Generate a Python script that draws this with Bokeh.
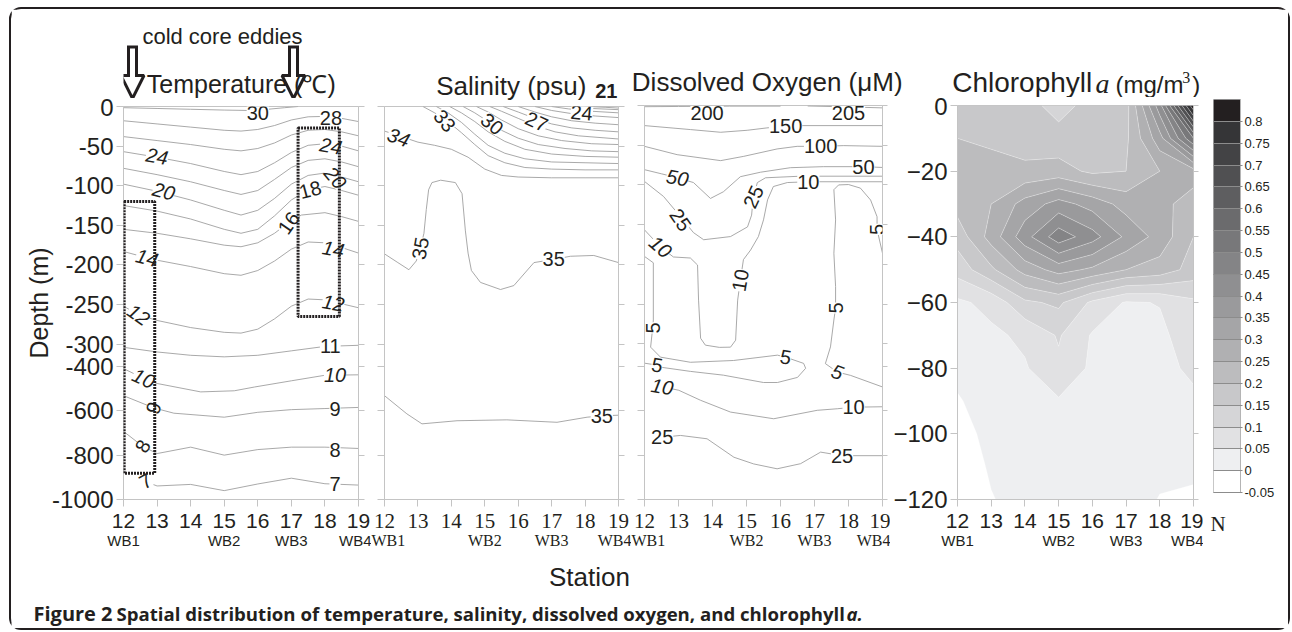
import numpy as np
from bokeh.plotting import figure
from bokeh.models import (Range1d, LinearAxis, FixedTicker, LabelSet, Label, ColumnDataSource,
                          BoxAnnotation, Arrow, NormalHead, CustomJSTickFormatter)
from bokeh.layouts import row, column
from bokeh.core.properties import value, field
from bokeh.embed import file_html
from bokeh.resources import INLINE

INK = "#231f20"
AXC = "#c4c4c4"
LINEC = "#9a9a9a"
SANS = "Liberation Sans"
SERIF = "Liberation Serif"

# ---------------- data ----------------
stations = [12, 13, 14, 15, 16, 17, 18, 19]
wb_ticks = [12, 15, 17, 19]
wb_labels = ["WB1", "WB2", "WB3", "WB4"]
depth_ticks = [0, -50, -100, -150, -200, -250, -300, -400, -600, -800, -1000]
chl_depth_ticks = [0, -20, -40, -60, -80, -100, -120]

# temperature isolines (station, depth m)
temp_isolines = {
    "30": [(12, -1.5), (13, -2.5), (14, -3.5), (15, -4.5), (15.7, -5), (16.3, -3.5), (16.8, -1.5), (17.2, 0)],
    "28": [(12, -18), (13, -22), (14, -26), (15, -30), (15.5, -31), (16, -29), (16.5, -24), (17, -17), (17.5, -13), (18, -12.5), (18.5, -15), (19, -19)],
    "26": [(12, -38), (13, -43), (14, -48), (15, -54), (15.5, -56), (16, -53), (16.5, -46), (17, -36), (17.5, -30), (18, -29), (18.5, -32), (19, -37)],
    "24": [(12, -57), (13, -64), (14, -72), (15, -82), (15.5, -86), (16, -82), (16.5, -71), (17, -58), (17.5, -49), (18, -47), (18.5, -50), (19, -56)],
    "22": [(12, -78), (13, -86), (14, -95), (15, -106), (15.5, -111), (16, -106), (16.5, -92), (17, -77), (17.5, -68), (18, -66), (18.5, -70), (19, -76)],
    "20": [(12, -98), (13, -107), (14, -118), (15, -131), (15.5, -137), (16, -131), (16.5, -116), (17, -98), (17.5, -87), (18, -84), (18.5, -89), (19, -95)],
    "18": [(12, -125), (13, -132), (14, -142), (15, -155), (15.5, -160), (16, -155), (16.5, -138), (17, -118), (17.5, -105), (18, -101), (18.5, -106), (19, -112)],
    "16": [(12, -155), (13, -160), (14, -167), (15, -175), (15.5, -177), (16, -172), (16.5, -160), (16.9, -147), (17.3, -137), (18, -134), (18.5, -139), (19, -145)],
    "14": [(12, -183), (12.7, -191), (13, -194), (14, -202), (15, -211), (15.5, -213), (16, -207), (16.5, -195), (17, -180), (17.5, -171), (18, -172), (18.5, -178), (19, -185)],
    "12": [(12, -252), (12.45, -263), (13, -270), (14, -279), (15, -285), (15.5, -286), (16, -281), (16.5, -268), (17, -252), (17.5, -243), (18, -244), (18.5, -249), (19, -254)],
    "11": [(12, -314), (13, -335), (14, -350), (15, -357), (16, -350), (17, -330), (18, -310), (19, -305)],
    "10": [(12, -410), (12.6, -454), (13, -477), (14.3, -515), (15.3, -510), (15.9, -493), (17, -465), (18, -440), (19, -438)],
    "9": [(12, -532), (12.9, -587), (13.5, -611), (15, -629), (16, -607), (17, -595), (18, -590), (19, -585)],
    "8": [(12, -693), (12.57, -760), (13, -793), (14, -764), (15, -800), (16, -775), (17, -764), (18, -764), (19, -770)],
    "7": [(12.5, -910), (13, -939), (14, -932), (15, -960), (16, -930), (17, -904), (18, -929), (19, -935)],
}
temp_lab_text = ["30", "28", "24", "24", "20", "20", "18", "16", "14", "14", "12", "12", "11", "10", "10", "9", "9", "8", "8", "7", "7"]
temp_lab_st = [16.0, 18.18, 13.0, 18.18, 13.2, 18.31, 17.56, 16.92, 12.7, 18.25, 12.45, 18.25, 18.16, 12.6, 18.3, 12.9, 18.3, 12.57, 18.3, 12.66, 18.3]
temp_lab_depth = [-8, -14, -63, -50, -107, -90, -105, -147, -191, -180, -263, -248, -310, -454, -440, -587, -593, -760, -775, -917, -930]
temp_lab_angle = [0, 0, -10, -10, -15, -50, 15, 55, -15, -10, -35, -10, 0, -25, 0, 70, 0, 60, 0, 30, 0]
temp_lab_style = ["normal", "normal", "italic", "italic", "italic", "italic", "normal", "normal", "italic", "italic",
                  "italic", "italic", "normal", "italic", "italic", "normal", "normal", "normal", "normal", "normal", "normal"]

# salinity isolines
sal_isolines = {
    "34": [(12.0, -31), (12.5, -38), (13.0, -45), (13.5, -49), (14.0, -54), (14.5, -64), (15.0, -79), (15.5, -87), (16.0, -89), (17.0, -90), (18.0, -90), (19.0, -90)],
    "33": [(13.15, 0), (13.5, -8), (13.9, -19), (14.3, -33), (14.7, -48), (15.1, -62), (15.6, -71), (16.2, -77), (17.0, -79), (18.0, -80), (19.0, -80)],
    "32": [(13.55, 0), (13.9, -8), (14.3, -20), (14.7, -35), (15.1, -49), (15.6, -59), (16.2, -66), (17.0, -70), (18.0, -71), (19.0, -72)],
    "31": [(13.95, 0), (14.3, -8), (14.7, -19), (15.1, -32), (15.6, -44), (16.2, -54), (17.0, -60), (18.0, -63), (19.0, -64)],
    "30": [(14.35, 0), (14.7, -8), (15.1, -19), (15.5, -30), (16.0, -40), (16.6, -48), (17.4, -53), (18.2, -56), (19.0, -57)],
    "29": [(14.75, 0), (15.1, -7), (15.5, -17), (16.0, -28), (16.6, -37), (17.3, -43), (18.2, -47), (19.0, -48)],
    "28": [(15.15, 0), (15.5, -6), (16.0, -15), (16.5, -24), (17.1, -32), (17.8, -37), (19.0, -41)],
    "27": [(15.55, 0), (16.0, -7), (16.5, -15), (17.0, -22), (17.6, -27), (18.3, -30), (19.0, -32)],
    "26": [(16.0, 0), (16.5, -7), (17.0, -13), (17.6, -18), (18.3, -21), (19.0, -23)],
    "25": [(16.5, 0), (17.0, -5), (17.6, -9), (18.3, -12), (19.0, -14)],
    "24": [(17.0, 0), (17.5, -3), (18.2, -6), (19.0, -8)],
    "23": [(17.6, 0), (18.2, -2.5), (19.0, -4)],
    "22": [(18.1, 0), (18.6, -1), (19.0, -2)],
    "35a": [(12, -186), (12.4, -197), (12.73, -206), (12.95, -195), (13.07, -179), (13.18, -160), (13.25, -130), (13.32, -105), (13.42, -96), (13.68, -93), (14.12, -96), (14.32, -110), (14.42, -157), (14.5, -185), (14.6, -207), (14.87, -222), (15.47, -231), (15.87, -226), (16.47, -197), (17.06, -193), (17.56, -189), (18.26, -188), (19, -197)],
    "35b": [(12, -532), (12.67, -614), (13.12, -659), (14.17, -645), (15.66, -641), (17.16, -652), (18.06, -629), (18.5, -623), (19, -620)],
}
sal_lab_text = ["34", "33", "30", "27", "24", "35", "35", "35"]
sal_lab_st = [12.42, 13.8, 15.22, 16.55, 17.9, 13.07, 17.06, 18.5]
sal_lab_depth = [-39, -18, -22, -19, -8, -179, -193, -625]
sal_lab_angle = [-20, -50, -40, -25, -5, 80, 0, 0]
sal_lab_style = ["italic", "normal", "normal", "normal", "normal", "normal", "normal", "normal"]

# dissolved oxygen isolines
do_isolines = {
    "200": [(12, -1.5), (13, -1.2), (14.5, -0.8), (16, -0.8)],
    "205": [(16.8, -0.6), (18, -1.8), (19, -3)],
    "150": [(12, -25.3), (13.35, -30.3), (14.24, -33.7), (15.02, -31.2), (15.6, -28.2), (16.15, -26), (16.69, -25.3), (19, -25.3)],
    "100": [(12, -51.4), (12.96, -61.9), (14.24, -69.4), (14.92, -64), (15.9, -54.7), (16.49, -51.4), (17.18, -51.4), (17.86, -50.5), (19, -51.4)],
    "50": [(12, -80.8), (12.5, -86), (12.97, -91), (13.44, -97), (13.94, -117), (14.32, -108.6), (14.82, -89.6), (15.41, -84), (16.29, -78.3), (17.26, -77), (18.44, -77), (19, -78)],
    "25a": [(12, -95.6), (12.56, -114.5), (13.06, -140), (13.44, -160), (13.74, -169), (14.53, -165), (15.03, -152.8), (15.15, -138), (15.2, -115), (15.32, -97), (15.56, -91), (16.59, -89), (19, -89)],
    "10a": [(12, -156.6), (12.47, -178), (12.85, -190.7), (13.35, -192), (13.56, -200.8), (13.59, -245), (13.65, -293), (13.79, -306), (14.2, -316), (14.53, -315), (14.68, -295.5), (14.74, -245), (14.82, -220), (14.91, -194), (15.12, -182), (15.35, -165), (15.5, -144), (15.62, -118.7), (15.79, -102), (16.2, -97), (16.82, -96), (17.76, -96), (19, -96)],
    "5a": [(19, -186), (18.84, -156), (18.84, -140), (18.65, -119), (18.35, -104), (18.0, -99.5), (17.71, -100), (17.57, -106), (17.62, -144), (17.57, -186), (17.62, -228), (17.62, -255), (17.57, -270), (17.47, -314), (17.32, -389), (17.67, -427), (18.06, -442), (19, -494)],
    "5b": [(12, -190), (12.26, -198), (12.26, -270), (12.24, -280), (12.18, -315), (12.47, -360), (13.35, -383), (14.62, -375), (15.91, -351), (16.15, -360), (16.68, -388), (16.74, -410), (16.5, -451), (15.91, -474), (15.5, -474), (14.32, -441), (13.35, -424), (12.47, -405), (12.37, -396), (12, -387)],
    "10b": [(12.3, -488), (12.52, -493), (13.01, -509), (13.65, -554), (14.53, -607), (15.8, -637), (17.08, -599), (17.67, -592), (18.15, -585), (19, -583)],
    "25b": [(12.52, -720), (13.06, -712), (13.84, -727), (14.63, -810), (15.21, -840), (15.9, -862), (16.59, -839), (17.18, -787), (17.81, -803), (19, -803)],
}
do_lab_text = ["200", "205", "150", "100", "50", "50", "25", "25", "10", "10", "10", "5", "5", "5", "5", "5", "5", "10", "10", "25", "25"]
do_lab_st = [13.84, 18.0, 16.15, 17.18, 12.97, 18.44, 13.06, 15.2, 16.82, 12.47, 14.82, 18.84, 17.62, 12.24, 16.15, 12.37, 17.67, 12.52, 18.15, 12.52, 17.81]
do_lab_depth = [-9, -9, -26, -51.4, -91, -77, -144, -115, -96, -178, -220, -156, -255, -280, -360, -396, -427, -493, -585, -720, -803]
do_lab_angle = [0, 0, 0, 0, -10, 0, -55, 65, 0, -40, 80, 90, 90, 90, -10, -10, -20, -10, 0, 0, 0]
do_lab_style = ["normal", "normal", "normal", "normal", "italic", "normal", "normal", "normal", "normal", "italic", "normal",
                "normal", "normal", "normal", "normal", "normal", "italic", "italic", "normal", "normal", "normal"]

# chlorophyll a grid (mg/m3): one column per station, rows = depth 0 .. -120 m
chl_depths = [0, -10, -20, -30, -40, -50, -60, -70, -80, -90, -100, -110, -120]
chl_st12 = [0.18, 0.20, 0.22, 0.22, 0.17, 0.12, 0.04, 0.03, 0.015, -0.005, -0.02, -0.035, -0.045]
chl_st13 = [0.18, 0.19, 0.22, 0.25, 0.27, 0.19, 0.065, 0.04, 0.035, 0.025, 0.015, 0.007, -0.003]
chl_st14 = [0.17, 0.18, 0.21, 0.32, 0.38, 0.27, 0.14, 0.06, 0.045, 0.035, 0.03, 0.025, 0.02]
chl_st15 = [0.13, 0.17, 0.22, 0.37, 0.48, 0.32, 0.16, 0.105, 0.09, 0.045, 0.035, 0.03, 0.03]
chl_st16 = [0.17, 0.18, 0.19, 0.33, 0.42, 0.29, 0.09, 0.045, 0.04, 0.04, 0.035, 0.03, 0.03]
chl_st17 = [0.18, 0.19, 0.20, 0.28, 0.34, 0.25, 0.045, 0.035, 0.03, 0.03, 0.03, 0.025, 0.02]
chl_st18 = [0.43, 0.33, 0.25, 0.27, 0.28, 0.23, 0.052, 0.04, 0.035, 0.03, 0.02, 0.01, -0.002]
chl_st19 = [0.84, 0.55, 0.28, 0.22, 0.20, 0.18, 0.09, 0.075, 0.06, 0.04, 0.025, 0.012, -0.01]
chl_levels = [-0.05, 0.0, 0.05, 0.1, 0.15, 0.2, 0.25, 0.3, 0.35, 0.4, 0.45, 0.5, 0.55, 0.6, 0.65, 0.7, 0.75, 0.8, 0.85]
chl_palette = ["#ffffff", "#eeeff1", "#e1e1e3", "#d5d5d7", "#c8c8ca", "#bcbcbe", "#b0b0b2", "#a5a5a7", "#9a9a9c",
               "#8f8f91", "#848486", "#78787a", "#6b6b6d", "#5e5e60", "#505052", "#434345", "#353537", "#231f20"]


def disp(d):
    """broken depth axis: 0-300 m linear, deeper part compressed"""
    return d if d >= -300 else -300 + (d + 300) * 0.28


# ---------------- helpers ----------------
def bare_fig(width, height, xr, yr, **kw):
    p = figure(width=width, height=height, x_range=xr, y_range=yr, x_axis_location=None,
               y_axis_location=None, toolbar_location=None, output_backend="svg", **kw)
    p.xgrid.grid_line_color = None
    p.ygrid.grid_line_color = None
    return p


def axis(ticks, font=SANS, size="21px", labels=True, tick_out=7, standoff=3, overrides=None):
    ax = LinearAxis(ticker=FixedTicker(ticks=ticks))
    ax.axis_line_color = AXC
    ax.major_tick_line_color = AXC
    ax.minor_tick_line_color = None
    ax.major_tick_out = tick_out
    ax.major_tick_in = 0
    ax.major_label_text_font = font
    ax.major_label_text_font_size = size
    ax.major_label_text_color = INK
    ax.major_label_standoff = standoff
    ax.axis_label_standoff = 0
    if not labels:
        ax.formatter = CustomJSTickFormatter(code="return ''")
        ax.major_label_text_font_size = "0px"
        ax.major_label_standoff = 0
    if overrides:
        ax.major_label_overrides = overrides
    return ax


BOTTOM_Y = 562  # image y where the panel row ends


def panel(width, height, mbl, mbr, mbt, y_range, xfont, xsize, wbfont, wbsize, frame_h=393):
    mbb = height - mbt - frame_h
    p = bare_fig(width, height, Range1d(12, 19), y_range, min_border_left=mbl, min_border_right=mbr,
                 min_border_top=mbt, min_border_bottom=mbb)
    p.outline_line_color = AXC
    p.add_layout(axis(stations, xfont, xsize, tick_out=7, standoff=7), "below")
    wb = axis(wb_ticks, wbfont, wbsize, standoff=-6, overrides=dict(zip(wb_ticks, wb_labels)))
    wb.axis_line_color = None
    wb.major_tick_line_color = None
    p.add_layout(wb, "below")
    return p


def draw_isolines(p, isolines):
    xs = [[pt[0] for pt in pts] for pts in isolines.values()]
    ys = [[disp(pt[1]) for pt in pts] for pts in isolines.values()]
    p.multi_line(xs=xs, ys=ys, line_color=LINEC, line_width=0.85)


def draw_labels(p, text, st, dep, ang, style):
    src = ColumnDataSource(dict(x=st, y=[disp(d) for d in dep], text=text, angle=ang, style=style))
    p.add_layout(LabelSet(x="x", y="y", text="text", angle="angle", angle_units="deg", source=src,
                          text_font=value(SANS), text_font_size="20px", text_color=INK,
                          text_font_style=field("style"), text_align="center", text_baseline="middle",
                          background_fill_color="white"))


def strip(x0, x1, y0, y1, fx0=None, fx1=None):
    """decoration strip whose data coordinates are the picture's pixel coordinates"""
    fx0 = x0 if fx0 is None else fx0
    fx1 = x1 if fx1 is None else fx1
    s = bare_fig(int(round(x1 - x0)), int(round(y1 - y0)), Range1d(fx0, fx1), Range1d(y1, y0),
                 min_border_left=int(round(fx0 - x0)), min_border_right=int(round(x1 - fx1)),
                 min_border_top=0, min_border_bottom=0)
    s.outline_line_color = None
    return s


def tlabel(p, x, y, text, size, font=SANS, align="center", style="normal"):
    p.add_layout(Label(x=x, y=y, text=text, text_font=font, text_font_size=size, text_font_style=style,
                       text_align=align, text_baseline="middle", text_color=INK))


dticks = [disp(d) for d in depth_ticks]
ybottom = disp(-1000)

# ---------------- panel 1: temperature ----------------
f1 = panel(360, BOTTOM_Y - 98, 112, 13, 8, Range1d(ybottom, 0), SANS, "21px", SANS, "15px")
yl = axis(dticks, SANS, "24px", tick_out=7, standoff=3, overrides={t: str(d) for t, d in zip(dticks, depth_ticks)})
yl.axis_label = "Depth (m)"
yl.axis_label_text_font = SANS
yl.axis_label_text_font_size = "25px"
yl.axis_label_text_font_style = "normal"
yl.axis_label_text_color = INK
yl.axis_label_standoff = -4
f1.add_layout(yl, "left")
f1.add_layout(axis(dticks, labels=False, tick_out=6), "right")
draw_isolines(f1, temp_isolines)
draw_labels(f1, temp_lab_text, temp_lab_st, temp_lab_depth, temp_lab_angle, temp_lab_style)
f1.add_layout(BoxAnnotation(left=12.02, right=12.93, top=disp(-120), bottom=disp(-882), fill_color=None,
                            line_color=INK, line_alpha=1.0, line_width=3, line_dash="2 1"))
f1.add_layout(BoxAnnotation(left=17.2, right=18.43, top=disp(-27), bottom=disp(-265), fill_color=None,
                            line_color=INK, line_alpha=1.0, line_width=3, line_dash="2 1"))

top1 = strip(11, 371, 9, 98, fx0=123, fx1=358)
tlabel(top1, 222, 36, "cold core eddies", "22px")
for ax_x in [132, 293]:
    top1.add_layout(Arrow(x_start=ax_x, y_start=45, x_end=ax_x, y_end=98, line_width=11, line_color=INK,
                          end=NormalHead(size=23, fill_color="white", line_color=INK, line_width=3)))
    top1.add_layout(Arrow(x_start=ax_x, y_start=48, x_end=ax_x, y_end=80, line_width=5, line_color="white",
                          end=None))
tlabel(top1, 240.8, 83, "Temperature (\u2103)", "25px")

# ---------------- panel 2: salinity ----------------
f2 = panel(260, BOTTOM_Y - 101, 13, 13, 5, Range1d(ybottom, 0), SERIF, "21px", SERIF, "16px")
f2.add_layout(axis(dticks, labels=False, tick_out=7), "left")
f2.add_layout(axis(dticks, labels=False, tick_out=6), "right")
draw_isolines(f2, sal_isolines)
draw_labels(f2, sal_lab_text, sal_lab_st, sal_lab_depth, sal_lab_angle, sal_lab_style)

top2 = strip(371, 631, 9, 101, fx0=384, fx1=618)
tlabel(top2, 510.8, 85.2, "Salinity (psu)", "26px")
tlabel(top2, 605.8, 90, "21", "20px", style="bold")

# ---------------- panel 3: dissolved oxygen ----------------
f3 = panel(259, BOTTOM_Y - 97, 13, 8, 8, Range1d(ybottom, 0), SERIF, "21px", SERIF, "16px", frame_h=394)
f3.add_layout(axis(dticks, labels=False, tick_out=7), "left")
f3.add_layout(axis(dticks, labels=False, tick_out=5), "right")
draw_isolines(f3, do_isolines)
draw_labels(f3, do_lab_text, do_lab_st, do_lab_depth, do_lab_angle, do_lab_style)

# ---------------- panel 4: chlorophyll a ----------------
f4 = panel(313, BOTTOM_Y - 97, 67, 10, 8, Range1d(-120, 0), SANS, "21px", SANS, "15px", frame_h=394)
f4.add_layout(axis(chl_depth_ticks, SANS, "24px", tick_out=7, standoff=3), "left")
f4.add_layout(axis(chl_depth_ticks, labels=False, tick_out=5), "right")
Z = np.array([chl_st12, chl_st13, chl_st14, chl_st15, chl_st16, chl_st17, chl_st18, chl_st19]).T[::-1]
f4.contour(x=np.array(stations, dtype=float), y=np.array(chl_depths[::-1], dtype=float), z=Z,
           levels=chl_levels, fill_color=chl_palette, line_color="white", line_alpha=0.55, line_width=0.6)

top34 = strip(631, 1203, 9, 97)
tlabel(top34, 766.7, 81, "Dissolved Oxygen (\u03bcM)", "26px")
tlabel(top34, 951.7, 82.2, "Chlorophyll", "28px", align="left")
tlabel(top34, 1095, 82.5, "a", "28px", font=SERIF, align="left", style="italic")
tlabel(top34, 1115, 83.6, "(mg/m", "24px", align="left")
tlabel(top34, 1181.7, 77, "3", "16px", font=SERIF, align="left")
tlabel(top34, 1191.7, 83.6, ")", "24px", align="left")

# ---------------- colour bar ----------------
CB_TOP = 99
fcb = bare_fig(85, BOTTOM_Y - CB_TOP, Range1d(0, 1), Range1d(-0.05, 0.85), min_border_left=10,
               min_border_right=48, min_border_top=0, min_border_bottom=BOTTOM_Y - CB_TOP - 393)
fcb.outline_line_color = "#b4b4b4"
fcb.quad(left=0, right=1, bottom=chl_levels[:-1], top=chl_levels[1:], fill_color=chl_palette, line_color=None)
cba = axis(chl_levels[:-1], SANS, "13px", tick_out=2, standoff=2)
cba.major_tick_in = 27
cba.major_tick_line_color = "#8c8c8c"
cba.axis_line_color = "#b4b4b4"
cba.formatter = CustomJSTickFormatter(code="return String(Math.round(tick*100)/100)")
fcb.add_layout(cba, "right")
nax = axis([0.167], SERIF, "21px", tick_out=0, standoff=19, overrides={0.167: "N"})
nax.axis_line_color = None
nax.major_tick_line_color = None
fcb.add_layout(nax, "below")
topcb = strip(1203, 1288, 9, CB_TOP)

# ---------------- bottom strip: axis title, caption ----------------
bottom = strip(11, 1288, BOTTOM_Y, 628)
tlabel(bottom, 589, 576, "Station", "26px")
tlabel(bottom, 33, 612.5, "Figure 2", "20px", font="Open Sans", align="left", style="bold")
tlabel(bottom, 116, 612.8, "Spatial distribution of temperature, salinity, dissolved oxygen, and chlorophyll",
       "18.6px", font="Open Sans", align="left", style="bold")
tlabel(bottom, 846, 612.8, "a.", "18.6px", font="Open Sans", align="left", style="bold italic")

layout = column(
    row(column(top1, f1), column(top2, f2), column(top34, row(f3, f4)), column(topcb, fcb)),
    bottom,
    styles={"border": "2px solid #231f20", "border-radius": "12px", "margin-left": "9px", "margin-top": "7px"},
)

open("out.html", "w").write(file_html(layout, INLINE))
